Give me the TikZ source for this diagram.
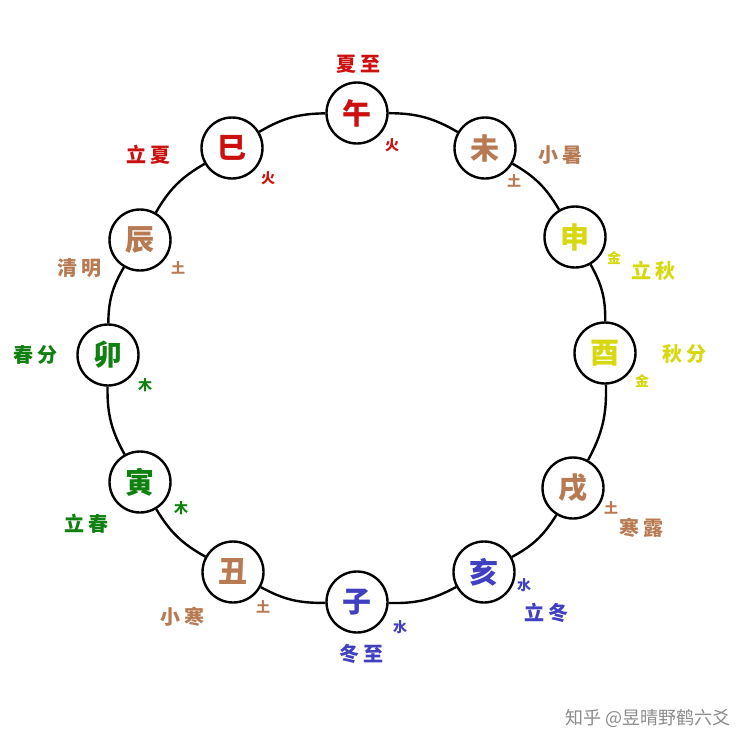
\documentclass[tikz,border=0pt]{standalone}
\usepackage{fontspec}
\newfontfamily\cjk{Noto Sans CJK SC}
\definecolor{cred}{HTML}{CC1010}
\definecolor{cbrown}{HTML}{B87A52}
\definecolor{cyel}{HTML}{D8D810}
\definecolor{cgreen}{HTML}{108010}
\definecolor{cblue}{HTML}{4040C0}
\tikzset{
  branch/.style={circle, draw=black, line width=2.4pt, fill=white, minimum size=61pt, inner sep=0pt,
    font=\cjk\bfseries\fontsize{29}{29}\selectfont},
  term/.style={font=\cjk\bfseries\fontsize{20}{20}\selectfont, inner sep=0pt},
  elem/.style={font=\cjk\bfseries\fontsize{14}{14}\selectfont, inner sep=0pt},
  ring/.style={line width=2.4pt, black}
}
\newcommand{\tw}[2]{#1\hspace{4pt}#2}
\begin{document}
\begin{tikzpicture}[x=1pt,y=-1pt]
\useasboundingbox[fill=white] (0,0) rectangle (750,750);
% nodes
\node[branch, text=cred]   (wu)   at (357,113) {午};
\node[branch, text=cbrown] (wei)  at (485,148) {未};
\node[branch, text=cyel]   (shen) at (575,237) {申};
\node[branch, text=cyel]   (you)  at (605,353) {酉};
\node[branch, text=cbrown] (xu)   at (573,488) {戌};
\node[branch, text=cblue]  (hai)  at (484,572) {亥};
\node[branch, text=cblue]  (zi)   at (357,602) {子};
\node[branch, text=cbrown] (chou) at (233,572) {丑};
\node[branch, text=cgreen] (yin)  at (140,482) {寅};
\node[branch, text=cgreen] (mao)  at (108,355) {卯};
\node[branch, text=cbrown] (chen) at (140,240) {辰};
\node[branch, text=cred]   (si)   at (232,148) {巳};
% ring
\draw[ring] (wu) to[bend left=15] (wei);
\draw[ring] (wei) to[bend left=15] (shen);
\draw[ring] (shen) to[bend left=15] (you);
\draw[ring] (you) to[bend left=15] (xu);
\draw[ring] (xu) to[bend left=15] (hai);
\draw[ring] (hai) to[bend left=15] (zi);
\draw[ring] (zi) to[bend left=15] (chou);
\draw[ring] (chou) to[bend left=15] (yin);
\draw[ring] (yin) to[bend left=15] (mao);
\draw[ring] (mao) to[bend left=15] (chen);
\draw[ring] (chen) to[bend left=15] (si);
\draw[ring] (si) to[bend left=15] (wu);
% labels
\node[term, text=cred]   (t1)  at (358,64)  {\tw{夏}{至}};
\node[elem, text=cred]   (e1)  at (392,145) {火};
\node[term, text=cbrown] (t2)  at (560,155) {\tw{小}{暑}};
\node[elem, text=cbrown] (e2)  at (514,181) {土};
\node[term, text=cyel]   (t3)  at (653,271) {\tw{立}{秋}};
\node[elem, text=cyel]   (e3)  at (614,258) {金};
\node[term, text=cyel]   (t4)  at (684,354) {\tw{秋}{分}};
\node[elem, text=cyel]   (e4)  at (642,381) {金};
\node[term, text=cbrown] (t5)  at (641,528) {\tw{寒}{露}};
\node[elem, text=cbrown] (e5)  at (611,508) {土};
\node[term, text=cblue]  (t6)  at (546,613) {\tw{立}{冬}};
\node[elem, text=cblue]  (e6)  at (524,585) {水};
\node[term, text=cblue]  (t7)  at (361,654) {\tw{冬}{至}};
\node[elem, text=cblue]  (e7)  at (400,627) {水};
\node[term, text=cbrown] (t8)  at (182,617) {\tw{小}{寒}};
\node[elem, text=cbrown] (e8)  at (263,607) {土};
\node[term, text=cgreen] (t9)  at (86,524)  {\tw{立}{春}};
\node[elem, text=cgreen] (e9)  at (181,508) {木};
\node[term, text=cgreen] (t10) at (35,355)  {\tw{春}{分}};
\node[elem, text=cgreen] (e10) at (145,385) {木};
\node[term, text=cbrown] (t11) at (79,268)  {\tw{清}{明}};
\node[elem, text=cbrown] (e11) at (178,268) {土};
\node[term, text=cred]   (t12) at (148,155) {\tw{立}{夏}};
\node[elem, text=cred]   (e12) at (268,178) {火};
% watermark
\node[font=\cjk\fontsize{18}{18}\selectfont, text=black!45, inner sep=0pt] (wm) at (648,718) {知乎 @昱晴野鹤六爻};
\end{tikzpicture}
\end{document}
